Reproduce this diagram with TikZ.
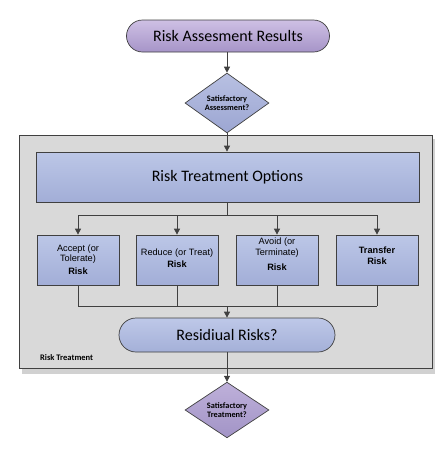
\documentclass[tikz,border=0pt]{standalone}
\usepackage{fontspec}
\setmainfont{Carlito}
\newfontfamily\arialf{Liberation Sans}
\usetikzlibrary{shapes.geometric,arrows.meta}
\definecolor{edge}{HTML}{404040}
\tikzset{
  conn/.style={draw=edge, line width=0.8pt},
  arr/.style={conn, -{Triangle[width=6pt,length=6pt]}},
  pill/.style={draw=edge, line width=0.7pt, rounded corners=16pt, inner sep=0pt},
  optbox/.style={draw=edge, line width=0.7pt, top color=optTop, bottom color=optBot, inner sep=0pt},
  dia/.style={diamond, draw=edge, line width=0.7pt, inner sep=0pt, minimum width=84pt, minimum height=48pt, align=center, font=\fontsize{8.3}{9.5}\selectfont\bfseries},
  small/.style={font=\arialf\fontsize{9.2}{10.5}\selectfont, align=center, inner sep=0pt},
  smallb/.style={font=\arialf\fontsize{9.2}{10.5}\selectfont\bfseries, align=center, inner sep=0pt},
  big/.style={font=\fontsize{16}{18}\selectfont}
}
\definecolor{optTop}{HTML}{BCC7E7}
\definecolor{optBot}{HTML}{A2AED7}
\begin{document}
\begin{tikzpicture}[x=1pt,y=-1pt]
\useasboundingbox (0,0) rectangle (447,451);
% gray container with shadow
\fill[black!18] (22,139) rectangle (435,374);
\node[draw=edge, line width=0.8pt, fill=black!15, minimum width=413pt, minimum height=233pt, inner sep=0pt] (grp) at (225.5,252) {};
\node[anchor=west, font=\fontsize{8.5}{10}\selectfont\bfseries, inner sep=0pt] (grplbl) at (40,358) {Risk Treatment};
% top pill
\node[pill, big, top color={rgb,255:red,206;green,192;blue,228}, bottom color={rgb,255:red,166;green,148;blue,200}, minimum width=203pt, minimum height=32pt] (res) at (228,36) {Risk Assesment Results};
% diamond 1
\node[dia, top color={rgb,255:red,184;green,192;blue,226}, bottom color={rgb,255:red,156;green,166;blue,210}] (d1) at (227,103) {Satisfactory\\Assessment?};
% options box
\node[optbox, big, minimum width=383pt, minimum height=50pt] (opt) at (227.5,177) {Risk Treatment Options};
% four boxes
\node[optbox, minimum width=82pt, minimum height=50pt] (b1) at (78,260) {};
\node[optbox, minimum width=82pt, minimum height=50pt] (b2) at (177,260) {};
\node[optbox, minimum width=82pt, minimum height=50pt] (b3) at (277,260) {};
\node[optbox, minimum width=82pt, minimum height=50pt] (b4) at (377,260) {};
\node[small] (t1a) at (78,254) {Accept (or\\Tolerate)};
\node[smallb] (t1b) at (78,271) {Risk};
\node[small] (t2a) at (177,253) {Reduce (or Treat)};
\node[smallb] (t2b) at (177,264) {Risk};
\node[small] (t3a) at (277,247.5) {Avoid (or\\Terminate)};
\node[smallb] (t3b) at (277,267) {Risk};
\node[smallb] (t4) at (377,255.5) {Transfer\\Risk};
% residual pill
\node[pill, big, top color={rgb,255:red,190;green,200;blue,232}, bottom color={rgb,255:red,164;green,176;blue,216}, minimum width=216pt, minimum height=34pt, rounded corners=17pt] (resid) at (227,335) {Residiual Risks?};
% diamond 2
\node[dia, minimum height=49pt, top color={rgb,255:red,190;green,176;blue,218}, bottom color={rgb,255:red,162;green,148;blue,198}] (d2) at (227,410) {Satisfactory\\Treatment?};
% connectors
\draw[arr] (res.south -| d1.north) -- (d1.north);
\draw[arr] (d1.south) -- (opt.north -| d1.south);
\coordinate (split) at (227,215);
\coordinate (merge) at (227,306);
\draw[conn] (opt.south -| split) -- (split);
\draw[conn] (split -| b1.north) -- (split -| b4.north);
\foreach \b in {b1,b2,b3,b4} {
  \draw[arr] (split -| \b.north) -- (\b.north);
  \draw[conn] (\b.south) -- (merge -| \b.south);
}
\draw[conn] (merge -| b1.south) -- (merge -| b4.south);
\draw[arr] (merge) -- (resid.north -| merge);
\draw[arr] (resid.south -| d2.north) -- (d2.north);
\end{tikzpicture}
\end{document}
